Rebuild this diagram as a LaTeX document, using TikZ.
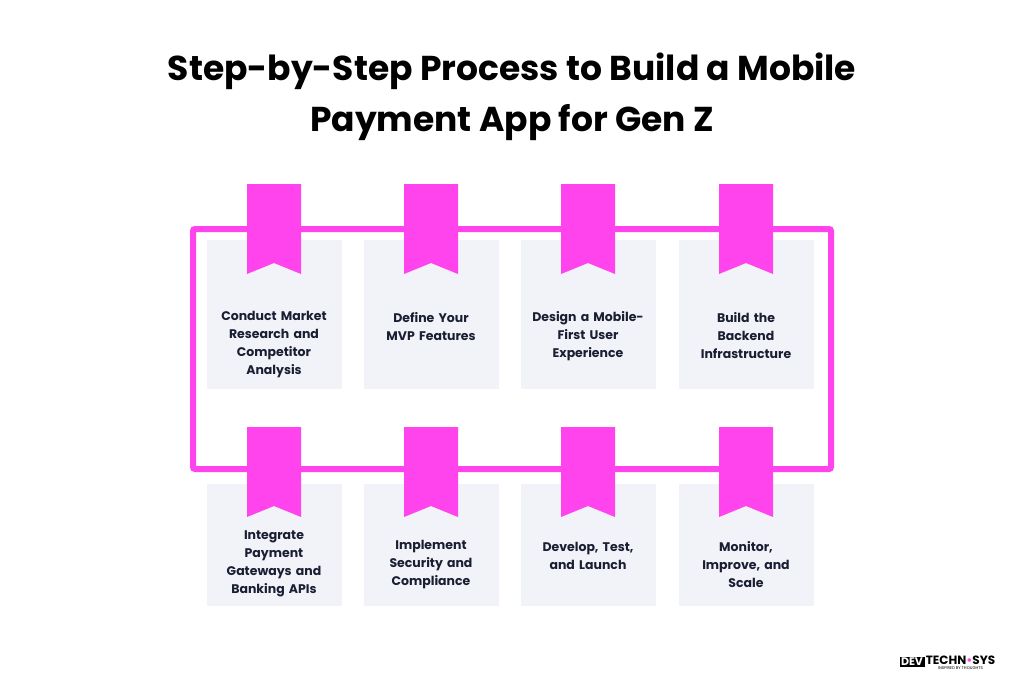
\documentclass[tikz,border=0pt]{standalone}
\usepackage{fontspec}
\setmainfont{Poppins}
\usetikzlibrary{positioning}
\definecolor{pink}{HTML}{FF44EE}
\definecolor{card}{HTML}{F2F3F8}
\definecolor{ink}{HTML}{1A1E33}
\begin{document}
\begin{tikzpicture}[x=1pt, y=-1pt]
        \tikzset{stepcard/.style={rectangle,fill=card,minimum width=135pt,inner sep=0pt}}
        \tikzset{steptext/.style={align=center,text width=120pt,font=\bfseries\fontsize{12.5}{18}\selectfont,text=ink,inner sep=0pt}}
        \tikzset{ribbon/.style={fill=pink}}
        \useasboundingbox (0,0) rectangle (1024,690);

        \node[font=\bfseries\fontsize{34.5}{51}\selectfont, align=center] (title) at (512,97) {Step-by-Step Process to Build a Mobile\\Payment App for Gen Z};

        \draw[pink, line width=6pt, rounded corners=2pt] (193,229) rectangle (831,469);

        % cards
        \node[stepcard, minimum height=149pt] (c1) at (274,314.5) {};
        \node[stepcard, minimum height=149pt] (c2) at (431,314.5) {};
        \node[stepcard, minimum height=149pt] (c3) at (588,314.5) {};
        \node[stepcard, minimum height=149pt] (c4) at (746,314.5) {};
        \node[stepcard, minimum height=122pt] (c5) at (274,545) {};
        \node[stepcard, minimum height=122pt] (c6) at (431,545) {};
        \node[stepcard, minimum height=122pt] (c7) at (588,545) {};
        \node[stepcard, minimum height=122pt] (c8) at (746,545) {};
        \foreach \c/\t in {274/184, 431/184, 588/184, 746/184, 274/427, 431/427, 588/427, 746/427}
          \fill[ribbon] (\c-27,\t) -- (\c+27,\t) -- (\c+27,\t+90) -- (\c,\t+79) -- (\c-27,\t+90) -- cycle;

        % labels
        \node[steptext] (s1) at (274,345) {Conduct Market\\Research and\\Competitor\\Analysis};
        \node[steptext] (s2) at (431,327) {Define Your\\MVP Features};
        \node[steptext] (s3) at (588,336) {Design a Mobile-\\First User\\Experience};
        \node[steptext] (s4) at (746,336) {Build the\\Backend\\Infrastructure};
        \node[steptext] (s5) at (274,564) {Integrate\\Payment\\Gateways and\\Banking APIs};
        \node[steptext] (s6) at (431,565) {Implement\\Security and\\Compliance};
        \node[steptext] (s7) at (588,556) {Develop, Test,\\and Launch};
        \node[steptext] (s8) at (746,565) {Monitor,\\Improve, and\\Scale};

        % logo
        \node[fill=black, text=white, font=\bfseries\fontsize{11}{11}\selectfont, inner sep=1.5pt] (dev) at (912,662) {DEV};
        \node[right=1pt of dev, font=\bfseries\fontsize{12}{12}\selectfont, inner sep=0pt, yshift=2pt] (techno) {TECHN\textcolor{pink}{•}SYS};
        \node[below=2pt of techno, font=\fontsize{4}{4}\selectfont, inner sep=0pt] (tag) {INSPIRED BY THOUGHTS};
\end{tikzpicture}
\end{document}
